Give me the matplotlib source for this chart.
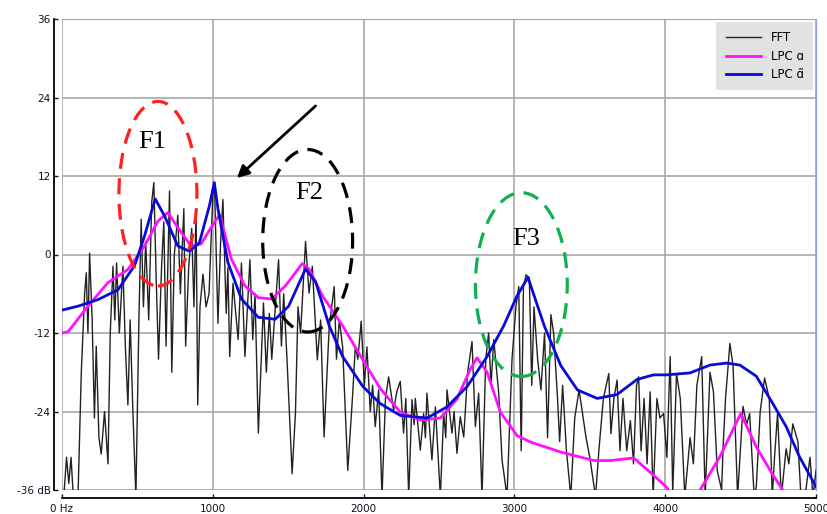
import matplotlib
matplotlib.use("Agg")
import matplotlib.pyplot as plt
from matplotlib.patches import Ellipse

# FFT magnitude (Hz, dB)
fft_hz = [0, 15, 30, 45, 60, 75, 106, 128, 150, 161, 172, 183, 200, 215, 227, 245, 260, 282, 305, 320,
          338, 350, 362, 380, 404, 420, 437, 452, 470, 490, 510, 525, 540, 555, 575, 595, 609, 625, 640, 660,
          675, 690, 713, 728, 745, 768, 785, 808, 820, 840, 860, 875, 889, 900, 915, 935, 955, 975, 1000, 1011,
          1034, 1052, 1067, 1089, 1100, 1112, 1134, 1168, 1190, 1213, 1246, 1265, 1280, 1302, 1336, 1355, 1375, 1391, 1436, 1455,
          1470, 1492, 1526, 1548, 1565, 1582, 1615, 1638, 1660, 1693, 1715, 1738, 1772, 1805, 1820, 1839, 1861, 1895, 1928, 1945,
          1962, 1984, 2005, 2022, 2044, 2060, 2077, 2100, 2122, 2145, 2166, 2199, 2220, 2243, 2265, 2280, 2299, 2321, 2335, 2343,
          2376, 2398, 2410, 2420, 2453, 2476, 2509, 2531, 2545, 2553, 2586, 2600, 2619, 2641, 2664, 2690, 2719, 2741, 2763, 2785,
          2810, 2829, 2845, 2863, 2896, 2918, 2951, 2984, 3010, 3029, 3045, 3060, 3077, 3099, 3115, 3130, 3154, 3176, 3200, 3220,
          3242, 3260, 3286, 3300, 3320, 3345, 3374, 3400, 3429, 3450, 3475, 3500, 3538, 3560, 3590, 3626, 3640, 3660, 3681, 3700,
          3720, 3745, 3769, 3790, 3810, 3824, 3840, 3860, 3880, 3900, 3920, 3945, 3965, 3989, 4011, 4033, 4050, 4075, 4100, 4130,
          4165, 4187, 4210, 4242, 4265, 4297, 4320, 4345, 4374, 4385, 4400, 4429, 4450, 4480, 4516, 4540, 4560, 4590, 4604, 4630,
          4659, 4690, 4710, 4725, 4745, 4770, 4802, 4820, 4846, 4880, 4900, 4934, 4960, 4980, 5000]
fft_db = [-37, -36, -31, -35, -31, -37, -37, -18, -6, -2.8, -12, 0.2, -10, -25, -14, -28, -30.5, -24, -32, -12,
          -1.8, -10, -1.3, -12, -1.8, -14, -23, -10, -24, -37, -10, 5.4, -8, 2, -10, 8, 11, -4, -16, -2,
          5, -14, 9.7, -18, 0, 6, -6, 7, -14, -2, 4, -8, 7, -23, -8, -3, -8, -6, 9, 11,
          -10.5, 2, 8.4, -9, -2, -15.6, -4.4, -13, -1.3, -15.6, -0.8, -13, -6, -27.3, -7.4, -18, -9, -16, -0.8, -14,
          -6, -16, -33.5, -24.3, -8, -12, 2, -5.9, -1.8, -16.1, -10, -27.9, -11, -4.9, -16, -10, -14.1, -33, -21.2, -14,
          -16, -10.2, -20, -14.1, -24, -20, -26.3, -20.7, -37, -22, -18.7, -23.8, -21, -19.4, -27.3, -22, -37, -22.2, -26, -22,
          -29.9, -24.3, -28, -21.2, -31.4, -23.3, -37, -24.3, -28, -20.7, -27.3, -24, -30.4, -24.8, -27.9, -18, -13.3, -26.3, -21.2, -37,
          -16, -12, -20, -13, -21.2, -31.4, -37, -16.1, -8, -4.9, -30, -5, -3.1, -3.6, -20, -8, -16, -20.7, -12, -28,
          -9.2, -12, -22, -28.6, -20, -30, -37, -25, -20.7, -24, -28, -31, -37, -30, -22, -18.2, -27.4, -22, -19.2, -30,
          -22, -30, -25.4, -32, -20, -18.7, -30, -22, -32, -21, -37, -22, -25, -24.3, -31, -15.6, -36.5, -18.2, -22, -37,
          -28, -32, -20, -15.6, -37, -18, -21, -33, -36, -29, -22, -13.6, -17, -37, -23.2, -26, -24.3, -37, -35.5, -24,
          -18.9, -22, -37, -31, -24.3, -37, -29.7, -32, -25.9, -28.6, -37, -35.8, -31, -37, -33]

# LPC envelope a
lpc_hz = [0, 40, 172, 305, 437, 547, 636, 702, 768, 856, 922, 988, 1045, 1123, 1213, 1302, 1391, 1481, 1593, 1638,
          1727, 1861, 2018, 2111, 2243, 2376, 2509, 2619, 2708, 2752, 2819, 2907, 3018, 3110, 3308, 3527, 3637, 3791, 3901, 4011,
          4060, 4150, 4231, 4363, 4501, 4604, 4714, 4780, 4850, 5000]
lpc_db = [-12, -11.8, -7.9, -4.3, -2.3, 1.3, 5.1, 6.4, 4.1, 1.3, 1.6, 4.1, 6.1, -0.7, -4.8, -6.6, -6.8, -4.8, -1.4, -2.2,
          -6.3, -10.9, -17, -20.5, -24.1, -25.3, -25, -22.1, -17.5, -15.8, -18, -24.1, -27.7, -28.7, -30.2, -31.5, -31.5, -31.1, -33.3, -35.6,
          -37.5, -40, -36, -30.9, -24.3, -29.4, -33.7, -36, -40, -40]

# LPC envelope a-tilde
lpct_hz = [0, 106, 238, 371, 481, 547, 618, 680, 768, 845, 911, 977, 1010, 1034, 1100, 1190, 1302, 1414, 1503, 1615,
           1682, 1772, 1861, 1996, 2111, 2243, 2420, 2553, 2686, 2819, 2929, 3018, 3090, 3198, 3308, 3418, 3549, 3681, 3813, 3923,
           4011, 4165, 4297, 4407, 4495, 4604, 4714, 4802, 4890, 5000]
lpct_db = [-8.5, -7.9, -6.9, -5.4, -1.7, 2.8, 8.5, 5.9, 1.3, 0.5, 1.8, 7.4, 11, 7, -1.2, -6.8, -9.6, -9.9, -7.9, -2.2,
           -4.2, -10.9, -15.6, -20.2, -22.8, -24.6, -25, -23.3, -20.2, -15.6, -10.9, -6.3, -3.5, -10.9, -17, -20.7, -22, -21.4, -19.1, -18.4,
           -18.4, -18.1, -16.9, -16.6, -16.9, -18.6, -22.8, -26.3, -30.9, -35.5]

x_ticks = [0, 1000, 2000, 3000, 4000, 5000]
x_labels = ["0 Hz", "1000", "2000", "3000", "4000", "5000"]
y_ticks = [-36, -24, -12, 0, 12, 24, 36]
y_labels = ["-36 dB", "-24", "-12", "0", "12", "24", "36"]

fig = plt.figure(figsize=(8.28, 5.14), dpi=100)
ax = fig.add_axes([62 / 828, 24 / 514, 754 / 828, 471 / 514])

ax.plot(fft_hz, fft_db, color='#222222', lw=1.0, label='FFT', zorder=3)
ax.plot(lpc_hz, lpc_db, color='#ff10ff', lw=2.0, label='LPC \u0251', zorder=4)
ax.plot(lpct_hz, lpct_db, color='#0a0ad8', lw=2.0, label='LPC \u0251\u0303', zorder=5)

ax.set_xlim(0, 5000)
ax.set_ylim(-36, 36)
ax.set_xticks(x_ticks)
ax.set_xticklabels(x_labels)
ax.set_yticks(y_ticks)
ax.set_yticklabels(y_labels)
ax.grid(True, color='#a8a8a8', lw=1.2)
ax.set_axisbelow(True)

for side in ['left', 'bottom']:
    ax.spines[side].set_position(('outward', 6))
    ax.spines[side].set_color('black')
    ax.spines[side].set_linewidth(1.3)
ax.spines['top'].set_color('#a8a8a8')
ax.spines['right'].set_color('#8f9cf0')
ax.tick_params(axis='both', direction='in', length=3, width=1, labelsize=7.5, colors='#111122')
ax.tick_params(axis='y', pad=2)
ax.tick_params(axis='x', pad=4)

leg = ax.legend(loc='upper right', prop={'family': 'DejaVu Sans', 'size': 8.5}, frameon=True, fancybox=False,
                facecolor='#e2e2e2', edgecolor='none', framealpha=1,
                handlelength=3.0, borderaxespad=0.25, labelspacing=0.45, borderpad=0.8)

# formant annotations
ax.add_patch(Ellipse((636, 9.3), 517, 28.2, fill=False, ec='#ff2020', lw=2.3, ls=(0, (5, 3)), zorder=6))
ax.add_patch(Ellipse((1629, 2.1), 596, 27.9, fill=False, ec='black', lw=2.3, ls=(0, (5, 3)), zorder=6))
ax.add_patch(Ellipse((3046, -4.6), 609, 28.1, fill=False, ec='#10b050', lw=2.3, ls=(0, (5, 3)), zorder=6))
for lab, xx, yy in [("F1", 596, 17.2), ("F2", 1642, 9.4), ("F3", 3079, 2.3)]:
    ax.text(xx, yy, lab, fontsize=19, family='Liberation Serif', ha='center', va='center', zorder=7)
ax.annotate('', xy=(1146, 11.4), xytext=(1695, 23.0),
            arrowprops=dict(arrowstyle='-|>', color='black', lw=2, mutation_scale=18), zorder=7)

fig.savefig('out.png', dpi=100)
